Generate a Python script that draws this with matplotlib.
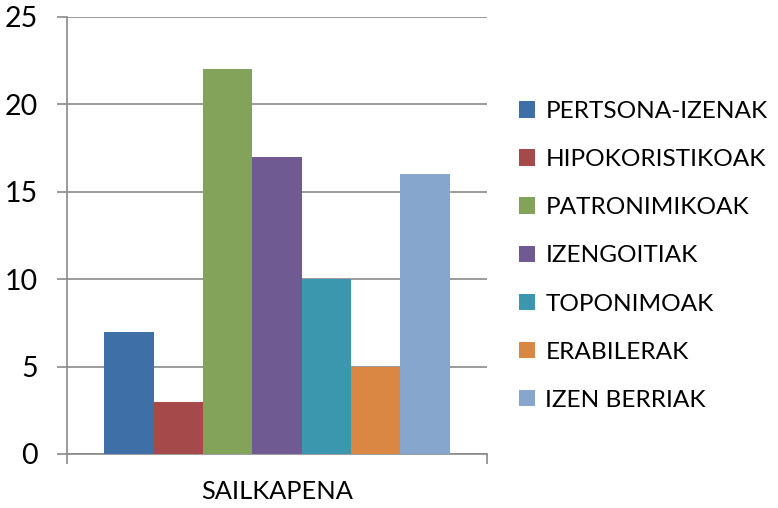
import matplotlib.pyplot as plt
import numpy as np

categories = ["PERTSONA-IZENAK", "HIPOKORISTIKOAK", "PATRONIMIKOAK", "IZENGOITIAK",
              "TOPONIMOAK", "ERABILERAK", "IZEN BERRIAK"]
values = [7, 3, 22, 17, 10, 5, 16]
group_label = "SAILKAPENA"
colors = ["#3E6FA6", "#A5494A", "#83A35A", "#705A92", "#3B97AE", "#DA8744", "#87A6CD"]

plt.rcParams['font.family'] = ['Lato', 'DejaVu Sans']
grey = "#8a8a8a"

fig = plt.figure(figsize=(7.78, 5.08), dpi=100)
ax = fig.add_axes([67 / 778, 1 - 454 / 508, 420 / 778, 437 / 508])

w = 0.1175
n = len(values)
bars = []
for i, (cat, v, c) in enumerate(zip(categories, values, colors)):
    b = ax.bar((i - (n - 1) / 2) * w, v, width=w, color=c, label=cat, zorder=3)
    bars.append(b)

ax.set_xlim(-0.5, 0.5)
ax.set_ylim(0, 25)
ax.set_yticks(np.arange(0, 26, 5))
ax.yaxis.grid(True, color=grey, linewidth=1.2, zorder=0)

for s in ["top", "right"]:
    ax.spines[s].set_visible(False)
for s in ["left", "bottom"]:
    ax.spines[s].set_color(grey)
    ax.spines[s].set_linewidth(1.2)

ax.tick_params(axis="y", length=7, width=1.2, color=grey, pad=14, labelsize=20.5)
ax.set_xticks([0])
ax.set_xticklabels([group_label])
ax.tick_params(axis="x", which="major", length=0, pad=19, labelsize=18.3)
ax.set_xticks([-0.5, 0.5], minor=True)
ax.tick_params(axis="x", which="minor", length=7, width=1.2, color=grey)

fig.legend(handles=bars, loc="upper left", bbox_to_anchor=(519 / 778, 1 - 101 / 508),
           frameon=False, fontsize=17.6, handlelength=0.66, handleheight=0.66,
           handletextpad=0.42, labelspacing=1.11, borderpad=0, borderaxespad=0)

fig.savefig("out.png", dpi=100)
